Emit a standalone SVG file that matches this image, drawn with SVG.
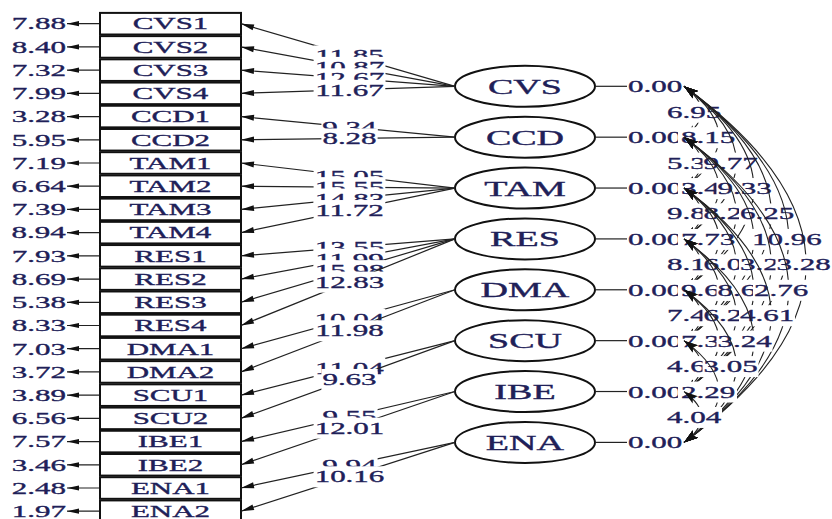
<svg xmlns="http://www.w3.org/2000/svg" width="832" height="519" viewBox="0 0 832 519">
<style>
.box{fill:#fff;stroke:#111;stroke-width:2}
.lat{fill:#fff;stroke:#111;stroke-width:2}
.ln{fill:none;stroke:#222;stroke-width:1.2}
.err{fill:none;stroke:#222;stroke-width:1.2;marker-end:url(#ea)}
.ld{fill:none;stroke:#222;stroke-width:1.2;marker-end:url(#la)}
.cv{fill:none;stroke:#222;stroke-width:1.1;marker-start:url(#ca);marker-end:url(#ca)}
.bg{fill:#fff}
.t{font-family:"Liberation Serif","Times New Roman",serif;font-size:17.5px;fill:#202058;stroke:#202058;stroke-width:0.35;transform-box:fill-box;transform:scale(1.77,1)}
.s{text-anchor:start;transform-origin:0% 50%}
.m{text-anchor:middle;transform-origin:50% 50%}
.e{text-anchor:end;transform-origin:100% 50%}
.big{font-size:21.5px}
</style>
<defs>
<marker id="ea" markerUnits="userSpaceOnUse" viewBox="-14 -4 15 8" refX="0" refY="0" markerWidth="15" markerHeight="8" orient="auto"><path d="M0,0 L-12,-2.6 L-12,2.6 z" fill="#111"/></marker>
<marker id="la" markerUnits="userSpaceOnUse" viewBox="-15 -4 16 8" refX="0" refY="0" markerWidth="16" markerHeight="8" orient="auto"><path d="M0,0 L-13,-3 L-13,3 z" fill="#111"/></marker>
<marker id="ca" markerUnits="userSpaceOnUse" viewBox="-16 -6 17 12" refX="0" refY="0" markerWidth="17" markerHeight="12" orient="auto-start-reverse"><path d="M0,0 L-14,-4.5 L-11,0 L-14,4.5 z" fill="#111"/></marker>
</defs>

<g id="CVS1"><path class="err" d="M100,23.7H67"/><rect class="box" x="100" y="12.9" width="141" height="21.6"/><text class="t e" x="66" y="29.5">7.88</text><text class="t m" x="170.5" y="29.5">CVS1</text></g>
<g id="CVS2"><path class="err" d="M100,46.92H67"/><rect class="box" x="100" y="36.12" width="141" height="21.6"/><text class="t e" x="66" y="52.72">8.40</text><text class="t m" x="170.5" y="52.72">CVS2</text></g>
<g id="CVS3"><path class="err" d="M100,70.13H67"/><rect class="box" x="100" y="59.33" width="141" height="21.6"/><text class="t e" x="66" y="75.93">7.32</text><text class="t m" x="170.5" y="75.93">CVS3</text></g>
<g id="CVS4"><path class="err" d="M100,93.35H67"/><rect class="box" x="100" y="82.55" width="141" height="21.6"/><text class="t e" x="66" y="99.15">7.99</text><text class="t m" x="170.5" y="99.15">CVS4</text></g>
<g id="CCD1"><path class="err" d="M100,116.56H67"/><rect class="box" x="100" y="105.76" width="141" height="21.6"/><text class="t e" x="66" y="122.36">3.28</text><text class="t m" x="170.5" y="122.36">CCD1</text></g>
<g id="CCD2"><path class="err" d="M100,139.78H67"/><rect class="box" x="100" y="128.98" width="141" height="21.6"/><text class="t e" x="66" y="145.58">5.95</text><text class="t m" x="170.5" y="145.58">CCD2</text></g>
<g id="TAM1"><path class="err" d="M100,162.99H67"/><rect class="box" x="100" y="152.19" width="141" height="21.6"/><text class="t e" x="66" y="168.79">7.19</text><text class="t m" x="170.5" y="168.79">TAM1</text></g>
<g id="TAM2"><path class="err" d="M100,186.21H67"/><rect class="box" x="100" y="175.41" width="141" height="21.6"/><text class="t e" x="66" y="192.01">6.64</text><text class="t m" x="170.5" y="192.01">TAM2</text></g>
<g id="TAM3"><path class="err" d="M100,209.42H67"/><rect class="box" x="100" y="198.62" width="141" height="21.6"/><text class="t e" x="66" y="215.22">7.39</text><text class="t m" x="170.5" y="215.22">TAM3</text></g>
<g id="TAM4"><path class="err" d="M100,232.64H67"/><rect class="box" x="100" y="221.84" width="141" height="21.6"/><text class="t e" x="66" y="238.44">8.94</text><text class="t m" x="170.5" y="238.44">TAM4</text></g>
<g id="RES1"><path class="err" d="M100,255.85H67"/><rect class="box" x="100" y="245.05" width="141" height="21.6"/><text class="t e" x="66" y="261.65">7.93</text><text class="t m" x="170.5" y="261.65">RES1</text></g>
<g id="RES2"><path class="err" d="M100,279.07H67"/><rect class="box" x="100" y="268.27" width="141" height="21.6"/><text class="t e" x="66" y="284.87">8.69</text><text class="t m" x="170.5" y="284.87">RES2</text></g>
<g id="RES3"><path class="err" d="M100,302.28H67"/><rect class="box" x="100" y="291.48" width="141" height="21.6"/><text class="t e" x="66" y="308.08">5.38</text><text class="t m" x="170.5" y="308.08">RES3</text></g>
<g id="RES4"><path class="err" d="M100,325.5H67"/><rect class="box" x="100" y="314.7" width="141" height="21.6"/><text class="t e" x="66" y="331.3">8.33</text><text class="t m" x="170.5" y="331.3">RES4</text></g>
<g id="DMA1"><path class="err" d="M100,348.71H67"/><rect class="box" x="100" y="337.91" width="141" height="21.6"/><text class="t e" x="66" y="354.51">7.03</text><text class="t m" x="170.5" y="354.51">DMA1</text></g>
<g id="DMA2"><path class="err" d="M100,371.93H67"/><rect class="box" x="100" y="361.13" width="141" height="21.6"/><text class="t e" x="66" y="377.73">3.72</text><text class="t m" x="170.5" y="377.73">DMA2</text></g>
<g id="SCU1"><path class="err" d="M100,395.14H67"/><rect class="box" x="100" y="384.34" width="141" height="21.6"/><text class="t e" x="66" y="400.94">3.89</text><text class="t m" x="170.5" y="400.94">SCU1</text></g>
<g id="SCU2"><path class="err" d="M100,418.36H67"/><rect class="box" x="100" y="407.56" width="141" height="21.6"/><text class="t e" x="66" y="424.16">6.56</text><text class="t m" x="170.5" y="424.16">SCU2</text></g>
<g id="IBE1"><path class="err" d="M100,441.57H67"/><rect class="box" x="100" y="430.77" width="141" height="21.6"/><text class="t e" x="66" y="447.37">7.57</text><text class="t m" x="170.5" y="447.37">IBE1</text></g>
<g id="IBE2"><path class="err" d="M100,464.79H67"/><rect class="box" x="100" y="453.99" width="141" height="21.6"/><text class="t e" x="66" y="470.59">3.46</text><text class="t m" x="170.5" y="470.59">IBE2</text></g>
<g id="ENA1"><path class="err" d="M100,488H67"/><rect class="box" x="100" y="477.2" width="141" height="21.6"/><text class="t e" x="66" y="493.8">2.48</text><text class="t m" x="170.5" y="493.8">ENA1</text></g>
<g id="ENA2"><path class="err" d="M100,511.22H67"/><rect class="box" x="100" y="500.42" width="141" height="21.6"/><text class="t e" x="66" y="517.02">1.97</text><text class="t m" x="170.5" y="517.02">ENA2</text></g>

<g id="CVS"><ellipse class="lat" cx="525" cy="86.3" rx="70" ry="20.5"/><text class="t m big" x="525" y="93.8">CVS</text><path class="ln" d="M595,86.3H627"/><text class="t s" x="628" y="92.3">0.00</text></g>
<g id="CCD"><ellipse class="lat" cx="525" cy="137.17" rx="70" ry="20.5"/><text class="t m big" x="525" y="144.67">CCD</text><path class="ln" d="M595,137.17H627"/><text class="t s" x="628" y="143.17">0.00</text></g>
<g id="TAM"><ellipse class="lat" cx="525" cy="188.04" rx="70" ry="20.5"/><text class="t m big" x="525" y="195.54">TAM</text><path class="ln" d="M595,188.04H627"/><text class="t s" x="628" y="194.04">0.00</text></g>
<g id="RES"><ellipse class="lat" cx="525" cy="238.91" rx="70" ry="20.5"/><text class="t m big" x="525" y="246.41">RES</text><path class="ln" d="M595,238.91H627"/><text class="t s" x="628" y="244.91">0.00</text></g>
<g id="DMA"><ellipse class="lat" cx="525" cy="289.78" rx="70" ry="20.5"/><text class="t m big" x="525" y="297.28">DMA</text><path class="ln" d="M595,289.78H627"/><text class="t s" x="628" y="295.78">0.00</text></g>
<g id="SCU"><ellipse class="lat" cx="525" cy="340.65" rx="70" ry="20.5"/><text class="t m big" x="525" y="348.15">SCU</text><path class="ln" d="M595,340.65H627"/><text class="t s" x="628" y="346.65">0.00</text></g>
<g id="IBE"><ellipse class="lat" cx="525" cy="391.52" rx="70" ry="20.5"/><text class="t m big" x="525" y="399.02">IBE</text><path class="ln" d="M595,391.52H627"/><text class="t s" x="628" y="397.52">0.00</text></g>
<g id="ENA"><ellipse class="lat" cx="525" cy="442.39" rx="70" ry="20.5"/><text class="t m big" x="525" y="449.89">ENA</text><path class="ln" d="M595,442.39H627"/><text class="t s" x="628" y="448.39">0.00</text></g>

<g id="connectors">
<path class="ld" d="M455,86.3L241,23.7"/><rect class="bg" x="313.6" y="45.44" width="71.7" height="21"/><text class="t m" x="349.5" y="61.44">11.85</text>
<path class="ld" d="M455,86.3L241,46.92"/><rect class="bg" x="313.6" y="56.89" width="71.7" height="21"/><text class="t m" x="349.5" y="72.89">10.87</text>
<path class="ld" d="M455,86.3L241,70.13"/><rect class="bg" x="313.6" y="68.33" width="71.7" height="21"/><text class="t m" x="349.5" y="84.33">12.67</text>
<path class="ld" d="M455,86.3L241,93.35"/><rect class="bg" x="313.6" y="79.78" width="71.7" height="21"/><text class="t m" x="349.5" y="95.78">11.67</text>
<path class="ld" d="M455,137.17L241,116.56"/><rect class="bg" x="321.4" y="117.01" width="56.2" height="21"/><text class="t m" x="349.5" y="133.01">9.34</text>
<path class="ld" d="M455,137.17L241,139.78"/><rect class="bg" x="321.4" y="128.46" width="56.2" height="21"/><text class="t m" x="349.5" y="144.46">8.28</text>
<path class="ld" d="M455,188.04L241,162.99"/><rect class="bg" x="313.6" y="165.69" width="71.7" height="21"/><text class="t m" x="349.5" y="181.69">15.05</text>
<path class="ld" d="M455,188.04L241,186.21"/><rect class="bg" x="313.6" y="177.14" width="71.7" height="21"/><text class="t m" x="349.5" y="193.14">15.55</text>
<path class="ld" d="M455,188.04L241,209.42"/><rect class="bg" x="313.6" y="188.58" width="71.7" height="21"/><text class="t m" x="349.5" y="204.58">14.83</text>
<path class="ld" d="M455,188.04L241,232.64"/><rect class="bg" x="313.6" y="200.03" width="71.7" height="21"/><text class="t m" x="349.5" y="216.03">11.72</text>
<path class="ld" d="M455,238.91L241,255.85"/><rect class="bg" x="313.6" y="237.26" width="71.7" height="21"/><text class="t m" x="349.5" y="253.26">13.55</text>
<path class="ld" d="M455,238.91L241,279.07"/><rect class="bg" x="313.6" y="248.71" width="71.7" height="21"/><text class="t m" x="349.5" y="264.71">11.99</text>
<path class="ld" d="M455,238.91L241,302.28"/><rect class="bg" x="313.6" y="260.15" width="71.7" height="21"/><text class="t m" x="349.5" y="276.15">15.98</text>
<path class="ld" d="M455,238.91L241,325.5"/><rect class="bg" x="313.6" y="271.6" width="71.7" height="21"/><text class="t m" x="349.5" y="287.6">12.83</text>
<path class="ld" d="M455,289.78L241,348.71"/><rect class="bg" x="313.6" y="308.83" width="71.7" height="21"/><text class="t m" x="349.5" y="324.83">10.04</text>
<path class="ld" d="M455,289.78L241,371.93"/><rect class="bg" x="313.6" y="320.28" width="71.7" height="21"/><text class="t m" x="349.5" y="336.28">11.98</text>
<path class="ld" d="M455,340.65L241,395.14"/><rect class="bg" x="313.6" y="357.51" width="71.7" height="21"/><text class="t m" x="349.5" y="373.51">11.04</text>
<path class="ld" d="M455,340.65L241,418.36"/><rect class="bg" x="321.4" y="368.96" width="56.2" height="21"/><text class="t m" x="349.5" y="384.96">9.63</text>
<path class="ld" d="M455,391.52L241,441.57"/><rect class="bg" x="321.4" y="406.19" width="56.2" height="21"/><text class="t m" x="349.5" y="422.19">9.55</text>
<path class="ld" d="M455,391.52L241,464.79"/><rect class="bg" x="313.6" y="417.64" width="71.7" height="21"/><text class="t m" x="349.5" y="433.64">12.01</text>
<path class="ld" d="M455,442.39L241,488"/><rect class="bg" x="321.4" y="454.88" width="56.2" height="21"/><text class="t m" x="349.5" y="470.88">9.94</text>
<path class="ld" d="M455,442.39L241,511.22"/><rect class="bg" x="313.6" y="466.32" width="71.7" height="21"/><text class="t m" x="349.5" y="482.32">10.16</text>

<path class="cv" d="M684,86.3Q718.9,111.74 684,137.17"/><rect class="bg" x="666" y="101.74" width="56" height="21"/><text class="t s" x="667" y="117.74">6.95</text>
<path class="cv" d="M684,86.3Q753.8,137.17 684,188.04"/><rect class="bg" x="678" y="127.17" width="59" height="21"/><text class="t s" x="681" y="143.17">8.15</text>
<path class="cv" d="M684,137.17Q718.9,162.6 684,188.04"/><rect class="bg" x="666" y="152.6" width="56" height="21"/><text class="t s" x="667" y="168.6">5.39</text>
<path class="cv" d="M684,86.3Q788.7,162.6 684,238.91"/><rect class="bg" x="702.5" y="152.6" width="56" height="21"/><text class="t s" x="703.5" y="168.6">9.77</text>
<path class="cv" d="M684,137.17Q753.8,188.04 684,238.91"/><rect class="bg" x="678" y="178.04" width="59" height="21"/><text class="t s" x="681" y="194.04">3.49</text>
<path class="cv" d="M684,188.04Q718.9,213.48 684,238.91"/><rect class="bg" x="666" y="203.48" width="56" height="21"/><text class="t s" x="667" y="219.48">9.88</text>
<path class="cv" d="M684,86.3Q823.6,188.04 684,289.78"/><rect class="bg" x="716.5" y="178.04" width="56" height="21"/><text class="t s" x="717.5" y="194.04">9.33</text>
<path class="cv" d="M684,137.17Q788.7,213.48 684,289.78"/><rect class="bg" x="702.5" y="203.48" width="56" height="21"/><text class="t s" x="703.5" y="219.48">8.26</text>
<path class="cv" d="M684,188.04Q753.8,238.91 684,289.78"/><rect class="bg" x="678" y="228.91" width="59" height="21"/><text class="t s" x="681" y="244.91">7.73</text>
<path class="cv" d="M684,238.91Q718.9,264.35 684,289.78"/><rect class="bg" x="666" y="254.35" width="56" height="21"/><text class="t s" x="667" y="270.35">8.16</text>
<path class="cv" d="M684,86.3Q858.5,213.48 684,340.65"/><rect class="bg" x="739" y="203.48" width="56" height="21"/><text class="t s" x="740" y="219.48">6.25</text>
<path class="cv" d="M684,137.17Q823.6,238.91 684,340.65"/>
<path class="cv" d="M684,188.04Q788.7,264.35 684,340.65"/><rect class="bg" x="702.5" y="254.35" width="56" height="21"/><text class="t s" x="703.5" y="270.35">6.03</text>
<path class="cv" d="M684,238.91Q753.8,289.78 684,340.65"/><rect class="bg" x="678" y="279.78" width="59" height="21"/><text class="t s" x="681" y="295.78">9.68</text>
<path class="cv" d="M684,289.78Q718.9,315.22 684,340.65"/><rect class="bg" x="666" y="305.22" width="56" height="21"/><text class="t s" x="667" y="321.22">7.46</text>
<path class="cv" d="M684,86.3Q893.4,238.91 684,391.52"/><rect class="bg" x="751" y="228.91" width="71.5" height="21"/><text class="t s" x="752" y="244.91">10.96</text>
<path class="cv" d="M684,137.17Q858.5,264.35 684,391.52"/><rect class="bg" x="739" y="254.35" width="56" height="21"/><text class="t s" x="740" y="270.35">3.23</text>
<path class="cv" d="M684,188.04Q823.6,289.78 684,391.52"/><rect class="bg" x="716.5" y="279.78" width="56" height="21"/><text class="t s" x="717.5" y="295.78">8.62</text>
<path class="cv" d="M684,238.91Q788.7,315.22 684,391.52"/><rect class="bg" x="702.5" y="305.22" width="56" height="21"/><text class="t s" x="703.5" y="321.22">6.24</text>
<path class="cv" d="M684,289.78Q753.8,340.65 684,391.52"/><rect class="bg" x="678" y="330.65" width="59" height="21"/><text class="t s" x="681" y="346.65">7.33</text>
<path class="cv" d="M684,340.65Q718.9,366.09 684,391.52"/><rect class="bg" x="666" y="356.09" width="56" height="21"/><text class="t s" x="667" y="372.09">4.63</text>
<path class="cv" d="M684,86.3Q928.3,264.35 684,442.39"/><rect class="bg" x="775.5" y="254.35" width="56" height="21"/><text class="t s" x="776.5" y="270.35">3.28</text>
<path class="cv" d="M684,137.17Q893.4,289.78 684,442.39"/><rect class="bg" x="753" y="279.78" width="56" height="21"/><text class="t s" x="754" y="295.78">2.76</text>
<path class="cv" d="M684,188.04Q858.5,315.22 684,442.39"/><rect class="bg" x="739" y="305.22" width="56" height="21"/><text class="t s" x="740" y="321.22">4.61</text>
<path class="cv" d="M684,238.91Q823.6,340.65 684,442.39"/><rect class="bg" x="716.5" y="330.65" width="56" height="21"/><text class="t s" x="717.5" y="346.65">3.24</text>
<path class="cv" d="M684,289.78Q788.7,366.09 684,442.39"/><rect class="bg" x="702.5" y="356.09" width="56" height="21"/><text class="t s" x="703.5" y="372.09">3.05</text>
<path class="cv" d="M684,340.65Q753.8,391.52 684,442.39"/><rect class="bg" x="678" y="381.52" width="59" height="21"/><text class="t s" x="681" y="397.52">2.29</text>
<path class="cv" d="M684,391.52Q718.9,416.96 684,442.39"/><rect class="bg" x="666" y="406.96" width="56" height="21"/><text class="t s" x="667" y="422.96">4.04</text>
</g>
</svg>
